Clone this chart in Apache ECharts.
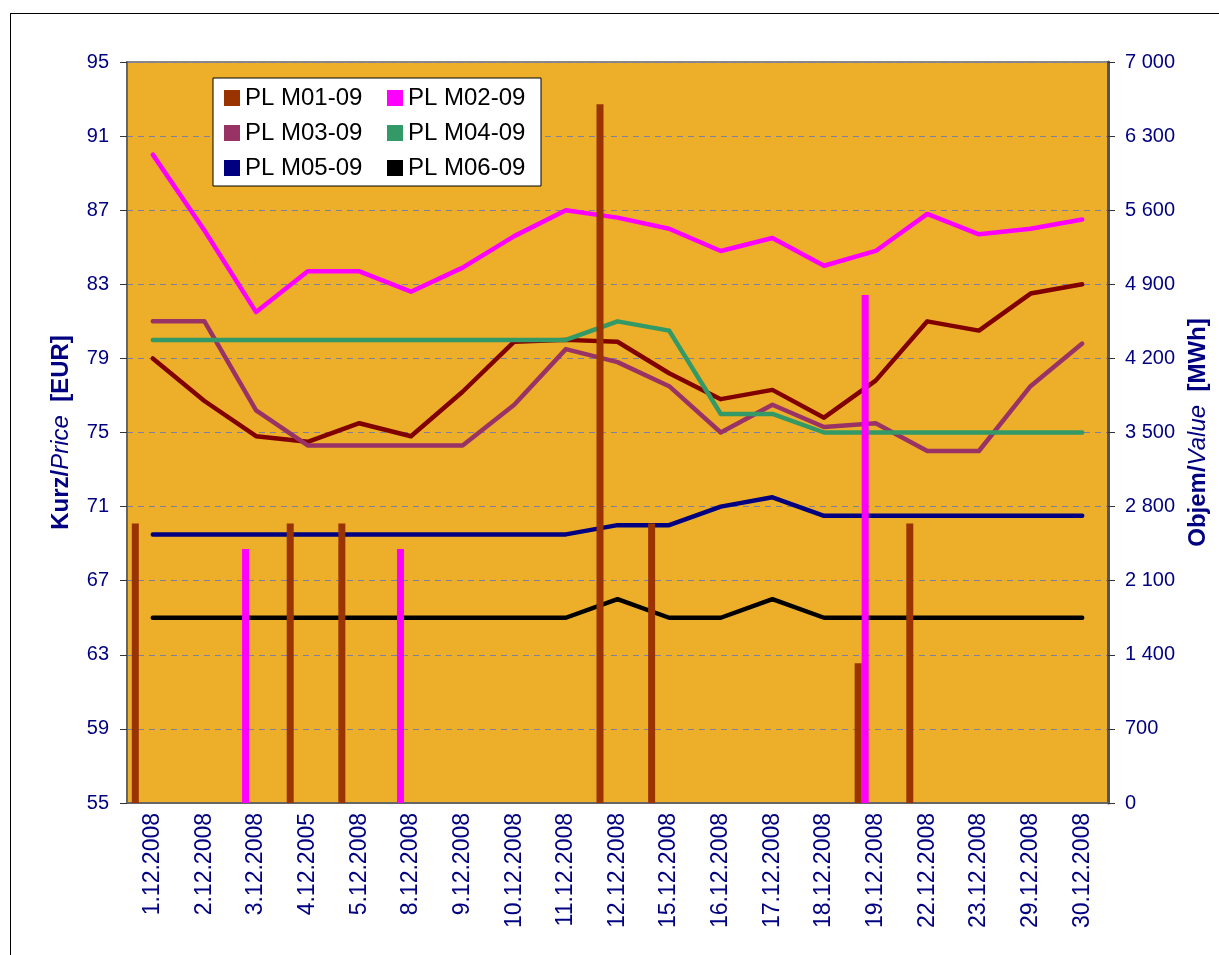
<!DOCTYPE html>
<html>
<head>
<meta charset="utf-8">
<title>PL M01-09 .. M06-09</title>
<script src="https://cdn.jsdelivr.net/npm/echarts@6/dist/echarts.min.js"></script>
<style>
  html, body { margin: 0; padding: 0; background: #fff; }
  #frame {
    position: absolute; left: 10px; top: 13px;
    width: 1230px; height: 960px;
    border: 1px solid #000; box-sizing: border-box;
  }
  #chart { position: absolute; left: 0; top: 0; width: 1219px; height: 955px; }
</style>
</head>
<body>
<div id="frame"></div>
<div id="chart"></div>
<script>
// kategorie (datum obchodu)
const days = ['1.12.2008', '2.12.2008', '3.12.2008', '4.12.2005', '5.12.2008', '8.12.2008',
  '9.12.2008', '10.12.2008', '11.12.2008', '12.12.2008', '15.12.2008', '16.12.2008',
  '17.12.2008', '18.12.2008', '19.12.2008', '22.12.2008', '23.12.2008', '29.12.2008', '30.12.2008']

const names = ['PL M01-09', 'PL M02-09', 'PL M03-09', 'PL M04-09', 'PL M05-09', 'PL M06-09']

// kurz / price [EUR]
const priceM01 = [79.0, 76.7, 74.8, 74.5, 75.5, 74.8, 77.2, 79.9, 80.0, 79.9, 78.2, 76.8, 77.3, 75.8, 77.8, 81.0, 80.5, 82.5, 83.0]
const priceM02 = [90.0, 85.9, 81.5, 83.7, 83.7, 82.6, 83.9, 85.6, 87.0, 86.6, 86.0, 84.8, 85.5, 84.0, 84.8, 86.8, 85.7, 86.0, 86.5]
const priceM03 = [81.0, 81.0, 76.2, 74.3, 74.3, 74.3, 74.3, 76.5, 79.5, 78.8, 77.5, 75.0, 76.5, 75.3, 75.5, 74.0, 74.0, 77.5, 79.8]
const priceM04 = [80.0, 80.0, 80.0, 80.0, 80.0, 80.0, 80.0, 80.0, 80.0, 81.0, 80.5, 76.0, 76.0, 75.0, 75.0, 75.0, 75.0, 75.0, 75.0]
const priceM05 = [69.5, 69.5, 69.5, 69.5, 69.5, 69.5, 69.5, 69.5, 69.5, 70.0, 70.0, 71.0, 71.5, 70.5, 70.5, 70.5, 70.5, 70.5, 70.5]
const priceM06 = [65.0, 65.0, 65.0, 65.0, 65.0, 65.0, 65.0, 65.0, 65.0, 66.0, 65.0, 65.0, 66.0, 65.0, 65.0, 65.0, 65.0, 65.0, 65.0]

// objem / value [MWh]
const volM01 = [2640, 0, 0, 2640, 2640, 0, 0, 0, 0, 6600, 2640, 0, 0, 0, 1320, 2640, 0, 0, 0]
const volM02 = [0, 0, 2400, 0, 0, 2400, 0, 0, 0, 0, 0, 0, 0, 0, 4800, 0, 0, 0, 0]
const volM03 = [0, 0, 0, 0, 0, 0, 0, 0, 0, 0, 0, 0, 0, 0, 0, 0, 0, 0, 0]
const volM04 = [0, 0, 0, 0, 0, 0, 0, 0, 0, 0, 0, 0, 0, 0, 0, 0, 0, 0, 0]
const volM05 = [0, 0, 0, 0, 0, 0, 0, 0, 0, 0, 0, 0, 0, 0, 0, 0, 0, 0, 0]
const volM06 = [0, 0, 0, 0, 0, 0, 0, 0, 0, 0, 0, 0, 0, 0, 0, 0, 0, 0, 0]

const barColors = ['#993300', '#FF00FF', '#993366', '#339966', '#000080', '#000000']
const lineColors = ['#800000', '#FF00FF', '#993366', '#339966', '#000080', '#000000']

const prices = [priceM01, priceM02, priceM03, priceM04, priceM05, priceM06]
const volumes = [volM01, volM02, volM03, volM04, volM05, volM06]

const font = '"Liberation Sans", Arial, sans-serif'
const navy = '#000080'

const chart = echarts.init(document.getElementById('chart'))

const series = []
// sloupce (objem) - prvni, aby legenda brala jejich barvy
names.forEach(function (n, i) {
  series.push({
    name: n,
    type: 'bar',
    yAxisIndex: 1,
    data: volumes[i],
    barWidth: 7,
    barGap: '0%',
    z: 3,
    itemStyle: { color: barColors[i] }
  })
})
// cary (kurz)
names.forEach(function (n, i) {
  series.push({
    name: n,
    type: 'line',
    yAxisIndex: 0,
    data: prices[i],
    symbol: 'none',
    z: 2,
    lineStyle: { color: lineColors[i], width: 4.5, cap: 'round', join: 'round' },
    itemStyle: { color: barColors[i] }
  })
})

const option = {
  animation: false,
  backgroundColor: 'transparent',
  grid: {
    left: 127,
    top: 62,
    width: 981,
    height: 741,
    show: true,
    backgroundColor: '#EDAF2A',
    borderColor: '#888888',
    borderWidth: 2
  },
  legend: {
    data: names,
    left: 213,
    top: 78,
    width: 340,
    padding: [8, 2, 6, 11],
    itemWidth: 16,
    itemHeight: 16,
    itemGap: 11,
    icon: 'rect',
    backgroundColor: '#fff',
    borderColor: '#000',
    borderWidth: 1,
    formatter: '{t|{name}}',
    textStyle: {
      rich: {
        t: { fontFamily: font, fontSize: 24, color: '#000', width: 131, lineHeight: 24 }
      }
    }
  },
  xAxis: {
    type: 'category',
    data: days,
    boundaryGap: true,
    axisLine: { lineStyle: { color: '#666', width: 2 } },
    axisTick: { length: 7, lineStyle: { color: '#333' } },
    axisLabel: { rotate: 90, margin: 10, fontFamily: font, fontSize: 23, color: navy, interval: 0 }
  },
  yAxis: [
    {
      type: 'value',
      min: 55,
      max: 95,
      interval: 4,
      name: '{b|Kurz/}{i|Price}{b|  [EUR]}',
      nameLocation: 'middle',
      nameRotate: 90,
      nameGap: 54,
      nameTextStyle: {
        rich: {
          b: { fontFamily: font, fontSize: 24, fontWeight: 'bold', color: navy },
          i: { fontFamily: font, fontSize: 24, fontStyle: 'italic', color: navy }
        }
      },
      axisLine: { show: true, lineStyle: { color: '#666', width: 2 } },
      axisTick: { show: true, length: 7, lineStyle: { color: '#333' } },
      axisLabel: { margin: 18, fontFamily: font, fontSize: 20, color: navy },
      splitLine: { show: true, lineStyle: { color: '#7F7F9F', type: [6, 5], width: 1 } }
    },
    {
      type: 'value',
      min: 0,
      max: 7000,
      interval: 700,
      position: 'right',
      name: '{b|Objem/}{i|Value}{b|  [MWh]}',
      nameLocation: 'middle',
      nameRotate: 90,
      nameGap: 78,
      nameTextStyle: {
        rich: {
          b: { fontFamily: font, fontSize: 24, fontWeight: 'bold', color: navy },
          i: { fontFamily: font, fontSize: 24, fontStyle: 'italic', color: navy }
        }
      },
      axisLine: { show: true, lineStyle: { color: '#555', width: 3 } },
      axisTick: { show: true, length: 7, lineStyle: { color: '#333' } },
      axisLabel: {
        margin: 17,
        fontFamily: font,
        fontSize: 20,
        color: navy,
        formatter: function (v) {
          return String(v).replace(/\B(?=(\d{3})+(?!\d))/g, ' ')
        }
      },
      splitLine: { show: false }
    }
  ],
  series: series
}

chart.setOption(option)
</script>
</body>
</html>
